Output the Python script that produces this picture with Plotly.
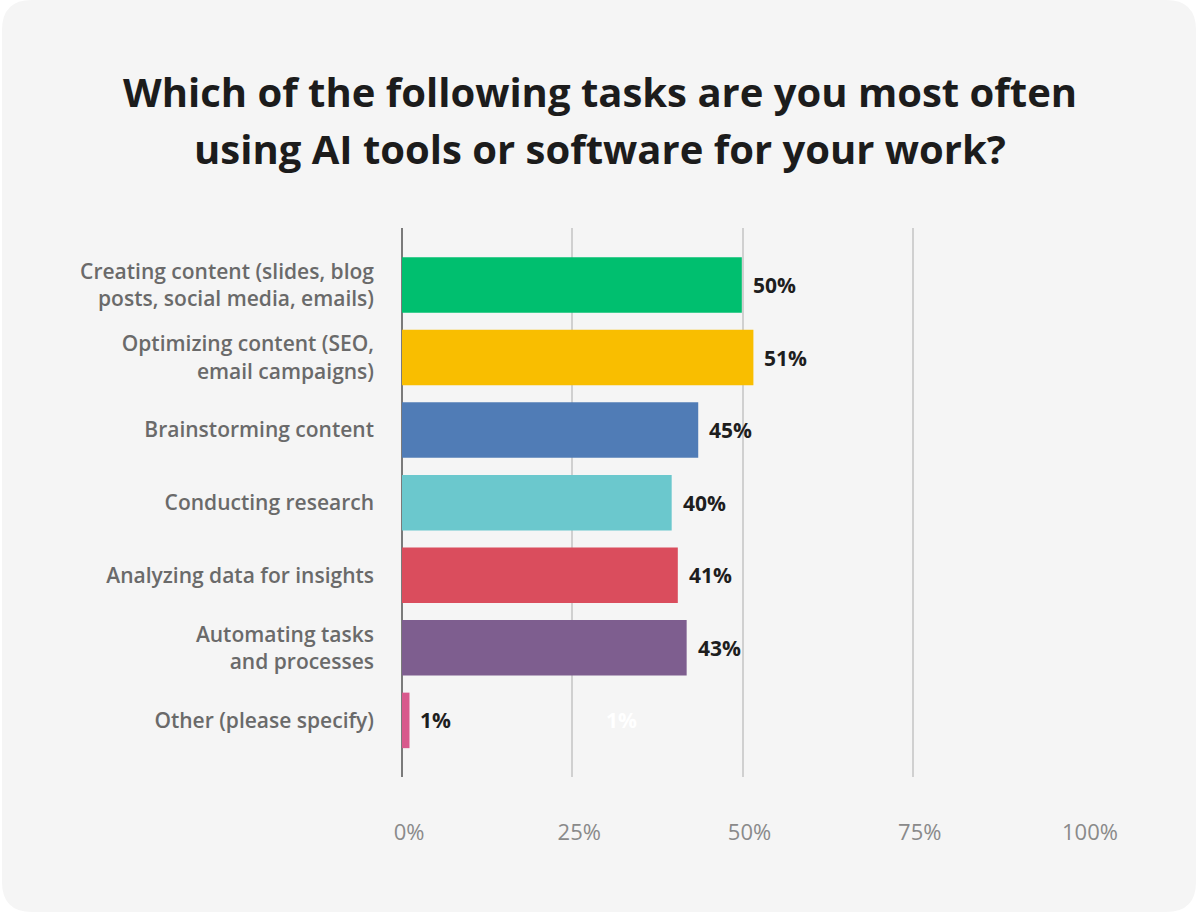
import plotly.graph_objects as go

# data
categories = [
    'Creating content (slides, blog<br>posts, social media, emails)',
    'Optimizing content (SEO,<br>email campaigns)',
    'Brainstorming content',
    'Conducting research',
    'Analyzing data for insights',
    'Automating tasks<br>and processes',
    'Other (please specify)',
]
bar_values = [49.9, 51.6, 43.5, 39.6, 40.5, 41.8, 1.1]
value_labels = ['50%', '51%', '45%', '40%', '41%', '43%', '1%']
bar_colors = ['#00BF6F', '#F9BE00', '#507CB6', '#6BC8CD', '#DA4D5D', '#7E5E8F', '#D8598C']
tick_vals = [0, 25, 50, 75, 100]
tick_text = ['0%', '25%', '50%', '75%', '100%']
title_lines = ['Which of the following tasks are you most often',
               'using AI tools or software for your work?']

W, H = 1200, 916
L, R, T, B = 402, 117, 228, 139
pw, ph = W - L - R, H - T - B


def px_to_paper(x, y):
    return (x - L) / pw, (H - B - y) / ph


def rounded_card(x0, y0, x1, y1, rad):
    # rounded rectangle in paper coords, built from pixel corners
    def p(x, y):
        a, b = px_to_paper(x, y)
        return f'{a:.5f},{b:.5f}'
    path = f'M {p(x0 + rad, y0)} L {p(x1 - rad, y0)} Q {p(x1, y0)} {p(x1, y0 + rad)} '
    path += f'L {p(x1, y1 - rad)} Q {p(x1, y1)} {p(x1 - rad, y1)} '
    path += f'L {p(x0 + rad, y1)} Q {p(x0, y1)} {p(x0, y1 - rad)} '
    path += f'L {p(x0, y0 + rad)} Q {p(x0, y0)} {p(x0 + rad, y0)} Z'
    return path


fig = go.Figure()

fig.add_trace(go.Bar(
    y=list(range(len(categories))),
    x=bar_values,
    orientation='h',
    marker=dict(color=bar_colors, line=dict(width=0)),
    width=0.765,
    hoverinfo='skip',
))

annotations = []

# title, two lines placed separately to get the wider line spacing
for line, ypx in zip(title_lines, [91, 149]):
    tx, ty = px_to_paper(600, ypx)
    annotations.append(dict(
        x=tx, y=ty, xref='paper', yref='paper', text=line, showarrow=False,
        xanchor='center', yanchor='middle',
        font=dict(family='Open Sans', size=40, color='#1c1c1c', weight='bold'),
    ))

# value labels just past each bar end
for i, (v, t) in enumerate(zip(bar_values, value_labels)):
    annotations.append(dict(
        x=v, y=i, xref='x', yref='y', text=t, showarrow=False,
        xanchor='left', xshift=9,
        font=dict(family='Open Sans', size=21, color='#1e1e1e', weight='bold'),
    ))

# faint ghost label seen in the reference
annotations.append(dict(
    x=32.2, y=6, xref='x', yref='y', text=value_labels[-1], showarrow=False,
    font=dict(family='Open Sans', size=21, color='#ffffff', weight='bold'),
))

fig.update_layout(
    width=W, height=H,
    margin=dict(l=L, r=R, t=T, b=B),
    paper_bgcolor='#ffffff',
    plot_bgcolor='rgba(0,0,0,0)',
    showlegend=False,
    xaxis=dict(
        range=[0, 100],
        tickvals=tick_vals, ticktext=tick_text,
        showgrid=True, gridcolor='#d0d0d0', gridwidth=2,
        zeroline=True, zerolinecolor='#7a7a7a', zerolinewidth=2,
        showline=False, ticks='',
        tickfont=dict(family='Open Sans', size=22, color='#8a8a8a'),
        ticklabelstandoff=40, ticklabelshift=7,
        fixedrange=True,
    ),
    yaxis=dict(
        range=[6.78, -0.785],
        tickvals=list(range(len(categories))), ticktext=categories,
        showgrid=False, zeroline=False, showline=False, ticks='',
        tickfont=dict(family='Open Sans', size=21, color='#6a6a6a', weight=600),
        ticklabelstandoff=27,
        fixedrange=True,
    ),
    shapes=[dict(
        type='path', xref='paper', yref='paper', layer='below',
        path=rounded_card(2, 0, 1196, 912, 30),
        fillcolor='#f5f5f5', line=dict(width=0),
    )],
    annotations=annotations,
)

fig.write_html('out.html', config={'displayModeBar': False},
               post_script="document.body.style.margin='0';")
